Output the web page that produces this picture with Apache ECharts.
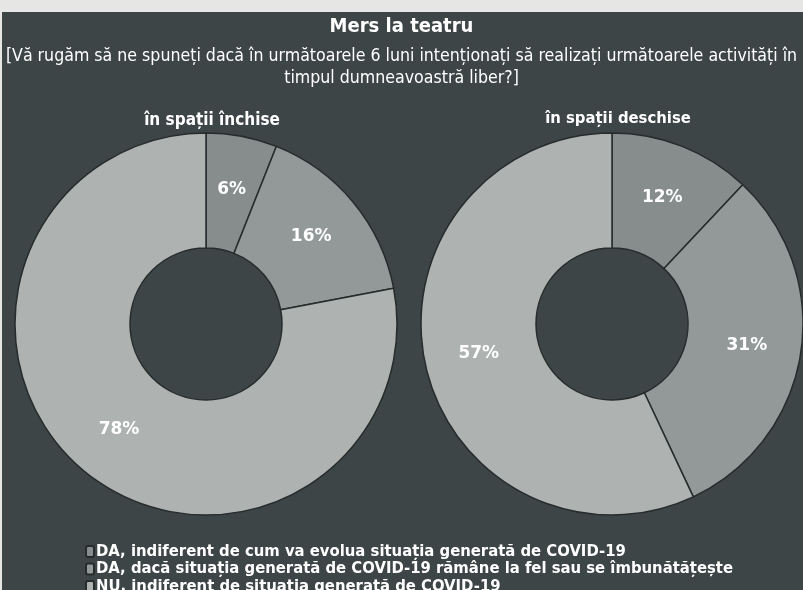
<!DOCTYPE html>
<html>
<head>
<meta charset="utf-8">
<script src="https://cdn.jsdelivr.net/npm/echarts@6/dist/echarts.min.js"></script>
<style>
  html, body { margin: 0; padding: 0; background: #e6e7e5; }
  #chart { width: 803px; height: 590px; }
</style>
</head>
<body>
<div id="chart"></div>
<script>
// categorii (legenda)
const categories = [
  'DA, indiferent de cum va evolua situația generată de COVID-19',
  'DA, dacă situația generată de COVID-19 rămâne la fel sau se îmbunătățește',
  'NU, indiferent de situația generată de COVID-19'
];
// titlurile celor doua grafice
const pieTitles = ['în spații închise', 'în spații deschise'];
// valori in procente
const closedValues = [6, 16, 78];
const openValues = [12, 31, 57];

const sliceColors = ['#878d8d', '#939999', '#aeb2b1'];
const bg = '#3e4547';
const condensed = '"DejaVu Sans Condensed", "DejaVu Sans", sans-serif';

const chart = echarts.init(document.getElementById('chart'));

// construieste seria pentru un inel
function ring(values, cx) {
  return {
    type: 'pie',
    center: [cx, 324],
    radius: [76, 191],
    startAngle: 90,
    clockwise: true,
    avoidLabelOverlap: false,
    silent: true,
    data: values.map((v, i) => ({
      name: categories[i],
      value: v,
      itemStyle: { color: sliceColors[i] }
    })),
    itemStyle: { borderColor: '#262b2c', borderWidth: 1.5 },
    label: {
      show: true,
      position: 'inside',
      formatter: '{c}%',
      color: '#ffffff',
      fontFamily: '"DejaVu Sans", sans-serif',
      fontWeight: 'bold',
      fontSize: 17
    },
    labelLine: { show: false }
  };
}

const option = {
  backgroundColor: '#e6e7e5',
  graphic: [{
    type: 'rect',
    z: -10,
    shape: { x: 2, y: 12, width: 803, height: 580 },
    style: { fill: bg }
  }],
  title: [
    {
      text: 'Mers la teatru',
      left: 'center',
      top: 12,
      textStyle: { color: '#ffffff', fontFamily: condensed, fontWeight: 'bold', fontSize: 20 }
    },
    {
      text: '[Vă rugăm să ne spuneți dacă în următoarele 6 luni intenționați să realizați următoarele activități în\ntimpul dumneavoastră liber?]',
      left: 'center',
      top: 40,
      textStyle: { color: '#ffffff', fontFamily: condensed, fontWeight: 'normal', fontSize: 17.6, lineHeight: 22, align: 'center' }
    },
    {
      text: pieTitles[0],
      left: 207,
      top: 107,
      textAlign: 'center',
      textStyle: { color: '#ffffff', fontFamily: condensed, fontWeight: 'bold', fontSize: 17 }
    },
    {
      text: pieTitles[1],
      left: 613,
      top: 105,
      textAlign: 'center',
      textStyle: { color: '#ffffff', fontFamily: condensed, fontWeight: 'bold', fontSize: 16.5 }
    }
  ],
  legend: {
    orient: 'vertical',
    left: 85,
    top: 543,
    height: 120,
    itemWidth: 8,
    itemHeight: 11,
    itemGap: 0.5,
    padding: 0,
    selectedMode: false,
    icon: 'roundRect',
    data: categories,
    textStyle: { color: '#ffffff', fontFamily: condensed, fontWeight: 'bold', fontSize: 16.5, lineHeight: 16, padding: [0, 0, 0, -3] }
  },
  series: [ring(closedValues, 206), ring(openValues, 612)]
};

chart.setOption(option);
</script>
</body>
</html>
